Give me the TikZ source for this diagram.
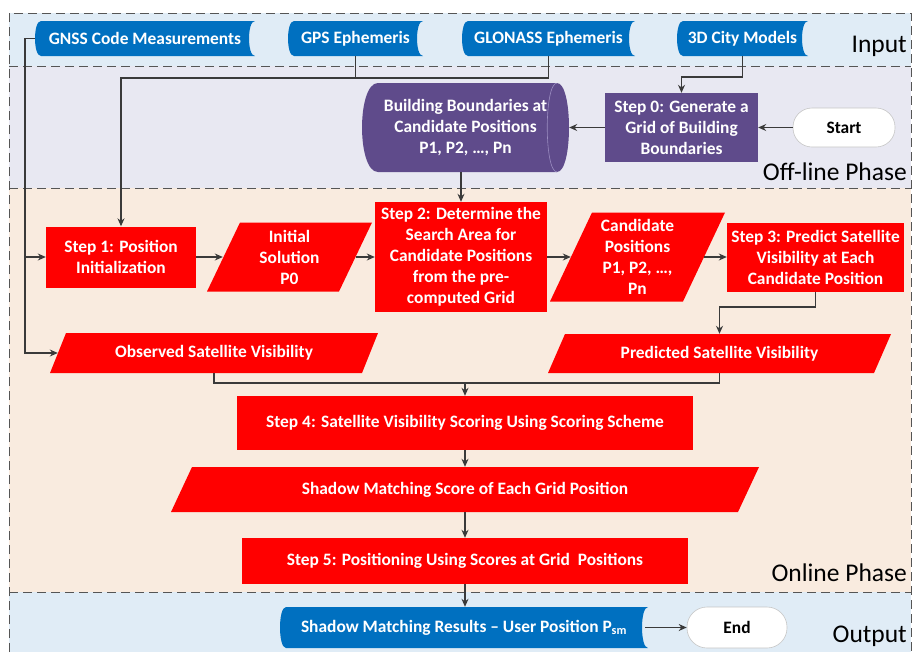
\documentclass[tikz,border=0pt]{standalone}
\usepackage{fontspec}
\setmainfont{Carlito}
\usetikzlibrary{arrows.meta,calc}
\definecolor{bandblue}{HTML}{E0ECF6}
\definecolor{bandlav}{HTML}{E8E8F2}
\definecolor{bandpeach}{HTML}{F9EBDF}
\definecolor{nodeblue}{HTML}{0070C0}
\definecolor{nodepurple}{HTML}{5F4B8B}
\definecolor{innerpurple}{HTML}{9A8CC0}
\definecolor{nodered}{HTML}{FF0000}
\definecolor{linec}{HTML}{3A3A3A}
\definecolor{dashc}{HTML}{555555}
\tikzset{
  txt/.style={text=white, font=\fontsize{17.4}{21}\selectfont\bfseries, align=center, inner sep=0pt},
  redbox/.style={txt, fill=nodered},
  purplebox/.style={txt, fill=nodepurple},
  para/.style={txt, path picture={\fill[nodered]
     ([xshift=#1]path picture bounding box.north west) -- (path picture bounding box.north east)
     -- ([xshift=-#1]path picture bounding box.south east) -- (path picture bounding box.south west) -- cycle;}},
  stored/.style={txt, path picture={\fill[nodeblue]
     ([xshift=#1]path picture bounding box.north west) -- (path picture bounding box.north east)
     .. controls ([xshift=-1.333*#1]path picture bounding box.north east) and ([xshift=-1.333*#1]path picture bounding box.south east) .. (path picture bounding box.south east)
     -- ([xshift=#1]path picture bounding box.south west)
     .. controls ([xshift=-0.333*#1]path picture bounding box.south west) and ([xshift=-0.333*#1]path picture bounding box.north west) .. ([xshift=#1]path picture bounding box.north west) -- cycle;}},
  drum/.style={txt, path picture={\fill[nodepurple]
     ([xshift=16pt]path picture bounding box.north west) -- ([xshift=-12pt]path picture bounding box.north east)
     .. controls ([xshift=4pt]path picture bounding box.north east) and ([xshift=4pt]path picture bounding box.south east) .. ([xshift=-12pt]path picture bounding box.south east)
     -- ([xshift=16pt]path picture bounding box.south west)
     .. controls ([xshift=-5.3pt]path picture bounding box.south west) and ([xshift=-5.3pt]path picture bounding box.north west) .. ([xshift=16pt]path picture bounding box.north west) -- cycle;
     \draw[innerpurple, line width=0.6pt] ([xshift=-12pt]path picture bounding box.north east)
     .. controls ([xshift=-25pt]path picture bounding box.north east) and ([xshift=-25pt]path picture bounding box.south east) .. ([xshift=-12pt]path picture bounding box.south east);}},
  term/.style={font=\fontsize{17.4}{21}\selectfont\bfseries, text=black, fill=white, draw=gray!45, line width=0.6pt, rounded corners=19pt, inner sep=0pt},
  phase/.style={font=\fontsize{25.5}{30}\selectfont, text=black, anchor=east, inner sep=0pt},
  ln/.style={draw=linec, line width=1.1pt},
  arr/.style={ln, -{Stealth[length=8pt,width=7pt]}},
  dsh/.style={draw=dashc, line width=0.9pt, dash pattern=on 9pt off 5pt},
}
\begin{document}
\begin{tikzpicture}[x=1pt,y=-1pt]
\useasboundingbox (0,0) rectangle (913,654);
% bands
\fill[bandblue] (9,13) rectangle (911,66);
\fill[bandlav] (9,66) rectangle (911,188);
\fill[bandpeach] (9,188) rectangle (911,592);
\fill[bandblue] (9,592) rectangle (911,652);
\draw[dsh] (9,652) -- (9,13) -- (911,13) -- (911,652);
\draw[dsh] (9,66) -- (911,66);
\draw[dsh] (9,188) -- (911,188);
\draw[dsh] (9,592) -- (911,592);
% phase labels
\node[phase] (lblinput) at (907,46) {Input};
\node[phase] (lbloff) at (907,172) {Off-line Phase};
\node[phase] (lblon) at (907,573) {Online Phase};
\node[phase] (lblout) at (907,636) {Output};
% input nodes
\node[stored=6pt, minimum width=220pt, minimum height=35pt] (gnss) at (145,38.5) {GNSS Code Measurements};
\node[stored=6pt, minimum width=135pt, minimum height=35pt] (gps) at (355.5,38.5) {GPS Ephemeris};
\node[stored=6pt, minimum width=173pt, minimum height=35pt] (glonass) at (548.5,38.5) {GLONASS Ephemeris};
\node[stored=6pt, minimum width=131pt, minimum height=35pt] (city) at (742.5,38.5) {3D City Models};
% offline
\node[purplebox, minimum width=153pt, minimum height=69pt] (step0) at (681.5,127.5) {Step 0: Generate a\\Grid of Building\\Boundaries};
\node[term, minimum width=102pt, minimum height=39pt] (start) at (844,127.5) {Start};
\node[drum, minimum width=207pt, minimum height=89pt] (bb) at (465.5,127.5) {Building Boundaries at\\Candidate Positions\\P1, P2, \dots, Pn};
% online
\node[redbox, minimum width=150pt, minimum height=61pt] (step1) at (121,257) {Step 1: Position\\Initialization};
\node[para=33pt, minimum width=165pt, minimum height=69pt] (init) at (289.5,257) {Initial\\Solution\\P0};
\node[redbox, minimum width=172pt, minimum height=110pt] (step2) at (461,257) {Step 2: Determine the\\Search Area for\\Candidate Positions\\from the pre-\\computed Grid};
\node[para=42pt, minimum width=175pt, minimum height=89pt] (cand) at (637.5,257) {Candidate\\Positions\\P1, P2, \dots,\\Pn};
\node[redbox, minimum width=177pt, minimum height=69pt] (step3) at (815.5,257) {Step 3: Predict Satellite\\Visibility at Each\\Candidate Position};
\node[para=16pt, minimum width=328pt, minimum height=40pt] (obs) at (214,353) {Observed Satellite Visibility};
\node[para=17pt, minimum width=343pt, minimum height=39pt] (pred) at (719.5,353.5) {Predicted Satellite Visibility};
\node[redbox, minimum width=456pt, minimum height=54pt] (step4) at (465,423) {Step 4: Satellite Visibility Scoring Using Scoring Scheme};
\node[para=21pt, minimum width=588pt, minimum height=45pt] (shadow) at (465,489.5) {Shadow Matching Score of Each Grid Position};
\node[redbox, minimum width=446pt, minimum height=46pt] (step5) at (465,561) {Step 5: Positioning Using Scores at Grid~ Positions};
% output
\node[stored=6pt, minimum width=368pt, minimum height=41pt] (res) at (464,627.5) {Shadow Matching Results -- User Position P\textsubscript{sm}};
\node[term, minimum width=100pt, minimum height=41pt, rounded corners=20pt] (end) at (737,627.5) {End};
% helper coordinates
\coordinate (bus) at (25,0);
\coordinate (hj) at (0,78);
\coordinate (cj) at (0,77);
\coordinate (s3j) at (0,307);
\coordinate (vj) at (0,383);
% connectors
\draw[arr] (gnss.west) -| (bus |- obs.west) -- ([xshift=8pt]obs.west);
\draw[arr] (bus |- step1.west) -- (step1.west);
\draw[ln] (gps.south) -- (gps.south |- hj);
\draw[arr] (glonass.south) |- (hj -| step1.north) -- (step1.north);
\draw[arr] (city.south) |- (cj -| step0.north) -- (step0.north);
\draw[arr] (start.west) -- (step0.east);
\draw[arr] (step0.west) -- (bb.east);
\draw[arr] (bb.south -| step2.north) -- (step2.north);
\draw[arr] (step1.east) -- ([xshift=16pt]init.west);
\draw[arr] ([xshift=-16pt]init.east) -- (step2.west);
\draw[arr] (step2.east) -- ([xshift=21pt]cand.west);
\draw[arr] ([xshift=-21pt]cand.east) -- (step3.west);
\draw[arr] (step3.south) |- (s3j -| pred.north) -- (pred.north);
\draw[ln] (obs.south) |- (vj -| pred.south) -- (pred.south);
\draw[arr] (vj -| step4.north) -- (step4.north);
\draw[arr] (step4.south) -- (step4.south |- shadow.north);
\draw[arr] (step4.south |- shadow.south) -- (step4.south |- step5.north);
\draw[arr] (step5.south) -- (step5.south |- res.north);
\draw[arr] ([xshift=-3pt]res.east) -- (end.west);
\end{tikzpicture}
\end{document}
